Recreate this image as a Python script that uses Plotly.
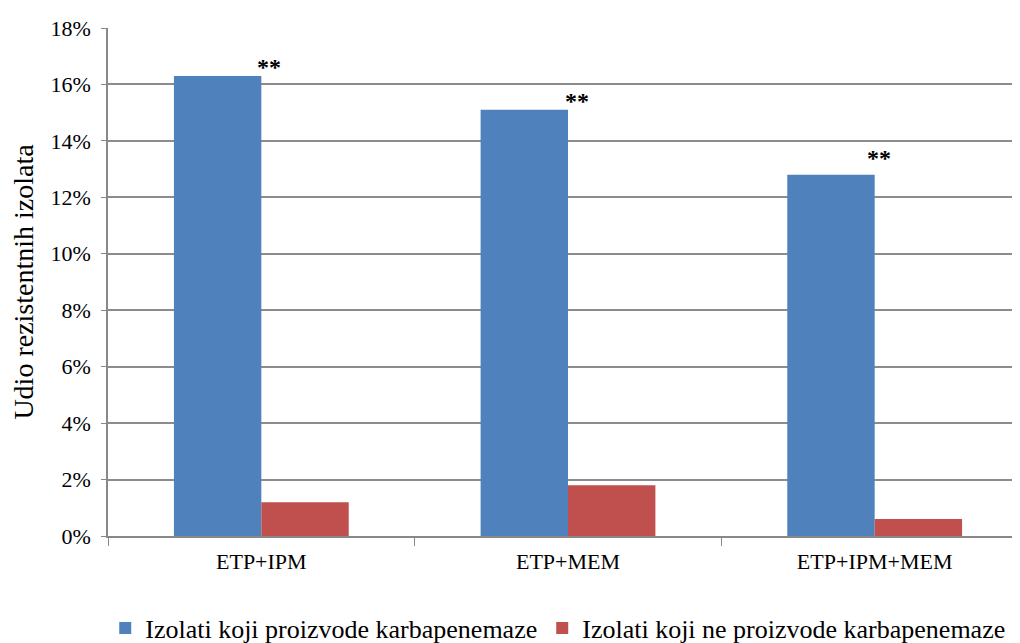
import plotly.graph_objects as go

categories = ["ETP+IPM", "ETP+MEM", "ETP+IPM+MEM"]
series_names = ["Izolati koji proizvode karbapenemaze", "Izolati koji ne proizvode karbapenemaze"]
producers = [16.3, 15.1, 12.8]
non_producers = [1.2, 1.8, 0.6]
sig_labels = ["**", "**", "**"]
y_ticks = [0, 2, 4, 6, 8, 10, 12, 14, 16, 18]
y_tick_text = [f"{t}%" for t in y_ticks]

# placement tweaks for the significance markers (pixels)
sig_xshift = [8, 9, 4]
sig_yshift = [9, 9, 17]

FONT = "Liberation Serif"
fig = go.Figure()
fig.add_trace(go.Bar(x=categories, y=producers, name=series_names[0],
                     marker=dict(color="#4F81BD", line=dict(width=0))))
fig.add_trace(go.Bar(x=categories, y=non_producers, name=series_names[1],
                     marker=dict(color="#C0504D", line=dict(width=0))))

for cat, v, s, dx, dy in zip(categories, producers, sig_labels, sig_xshift, sig_yshift):
    fig.add_annotation(x=cat, y=v, text=f"<b>{s}</b>", showarrow=False,
                       xref="x", yref="y", xshift=dx, yshift=dy,
                       font=dict(family=FONT, size=24, color="black"))

fig.update_layout(
    width=1020, height=643,
    margin=dict(l=100, r=0, t=20, b=115, autoexpand=False),
    plot_bgcolor="white", paper_bgcolor="white",
    barmode="group", bargap=0.43, bargroupgap=0,
    font=dict(family=FONT, size=22, color="black"),
    showlegend=True,
    legend=dict(orientation="h", x=-0.003, xanchor="left", y=-0.135, yanchor="top",
                font=dict(family=FONT, size=26, color="black"), itemwidth=30,
                traceorder="normal"),
    xaxis=dict(range=[-0.5, 2.5], showline=True, linecolor="#888888", linewidth=1.5,
               showgrid=False, tickfont=dict(family=FONT, size=22, color="black")),
    yaxis=dict(range=[0, 18], tickvals=y_ticks, ticktext=y_tick_text,
               showline=True, linecolor="#888888", linewidth=1.5,
               ticks="outside", ticklen=5, tickcolor="#888888",
               showgrid=True, gridcolor="#8c8c8c", gridwidth=1.5,
               zeroline=False, tickfont=dict(family=FONT, size=22, color="black"),
               ticklabelstandoff=6,
               title=dict(text="Udio rezistentnih izolata",
                          font=dict(family=FONT, size=28, color="black"), standoff=11)),
)
fig.update_xaxes(tickson="boundaries", ticks="outside", ticklen=8, tickcolor="#888888",
                 ticklabelstandoff=5)
fig.write_html("out.html")
